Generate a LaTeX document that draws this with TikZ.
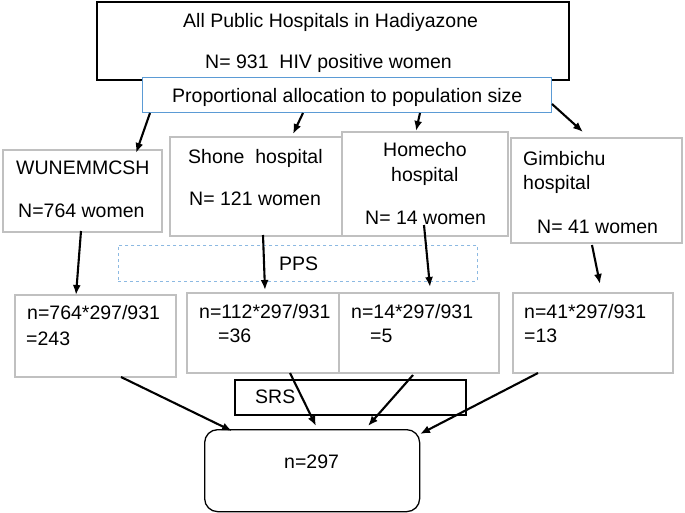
\documentclass[tikz,border=0pt]{standalone}
\usepackage{fontspec}
\setmainfont{Liberation Sans}
\usetikzlibrary{arrows.meta}
\definecolor{boxgray}{RGB}{192,192,192}
\definecolor{allocblue}{RGB}{91,155,213}
\begin{document}
\begin{tikzpicture}[x=1pt,y=-1pt,
  box/.style={anchor=north west,inner sep=0pt,line width=1.8pt,draw=boxgray},
  txt/.style={anchor=base west,inner sep=0pt,font=\fontsize{19.5}{23}\selectfont},
  arr/.style={-{Latex[length=10pt,width=8pt]},line width=2.1pt}]
\useasboundingbox (0,0) rectangle (685,512);

			% top of the flow
			\node(Top) at (96,1)[box,draw=black,line width=1.5pt,minimum width=472pt,minimum height=78pt]{};
			\node(Alloc) at (142,77)[box,draw=allocblue,line width=1.2pt,fill=white,minimum width=409pt,minimum height=35pt]{};
			\node(TopA) at (183,27)[txt]{All Public Hospitals in Hadiyazone};
			\node(TopB) at (205,68)[txt]{N= 931\ \ HIV positive women};
			\node(AllocT) at (172,102)[txt]{Proportional allocation to population size};
			
			% hospitals
			\node(Wun) at (2,149)[box,minimum width=159pt,minimum height=82pt]{};
			\node(Sho) at (169,136)[box,minimum width=172pt,minimum height=99pt]{};
			\node(Hom) at (341,131)[box,minimum width=166pt,minimum height=104pt]{};
			\node(Gim) at (510,137)[box,minimum width=171pt,minimum height=105pt]{};
			\node(WunA) at (16,174)[txt]{WUNEMMCSH};
			\node(WunB) at (18,217)[txt]{N=764 women};
			\node(ShoA) at (188,163)[txt]{Shone\ \ hospital};
			\node(ShoB) at (189,205)[txt]{N= 121 women};
			\node(HomA) at (383,156)[txt]{Homecho};
			\node(HomB) at (391,181)[txt]{hospital};
			\node(HomC) at (365,224)[txt]{N= 14 women};
			\node(GimA) at (523,165)[txt]{Gimbichu};
			\node(GimB) at (523,189)[txt]{hospital};
			\node(GimC) at (537,233)[txt]{N= 41 women};
			
			\node(Pps) at (118,245)[box,draw=allocblue!70,line width=0.8pt,dashed,minimum width=359pt,minimum height=36pt]{};
			\node(PpsT) at (279,270)[txt]{PPS};
			
			% sample sizes
			\node(WunN) at (14,294)[box,minimum width=161pt,minimum height=82pt]{};
			\node(ShoN) at (186,292)[box,minimum width=152pt,minimum height=80pt]{};
			\node(HomN) at (338,292)[box,minimum width=160pt,minimum height=80pt]{};
			\node(GimN) at (512,292)[box,minimum width=160pt,minimum height=80pt]{};
			\node(WunNA) at (27,319)[txt]{n=764*297/931};
			\node(WunNB) at (26,345)[txt]{=243};
			\node(ShoNA) at (199,318)[txt]{n=112*297/931};
			\node(ShoNB) at (218,342)[txt]{=36};
			\node(HomNA) at (351,318)[txt]{n=14*297/931};
			\node(HomNB) at (370,342)[txt]{=5};
			\node(GimNA) at (524,318)[txt]{n=41*297/931};
			\node(GimNB) at (524,342)[txt]{=13};
			
			\node(Srs) at (234,379)[box,draw=black,line width=1.5pt,minimum width=231pt,minimum height=35pt]{};
			\node(SrsT) at (255,403)[txt]{SRS};
			\node(Total) at (204,429)[box,draw=black,line width=1.3pt,rounded corners=13pt,minimum width=215pt,minimum height=82pt]{};
			\node(TotalT) at (284,468)[txt]{n=297};
			
			% arrow ends
			\coordinate(a1) at (150,113); \coordinate(b1) at (136,153);
			\coordinate(a2) at (303,113); \coordinate(b2) at (293,134);
			\coordinate(a3) at (420,113); \coordinate(b3) at (416,131);
			\coordinate(a4) at (552,104); \coordinate(b4) at (583,132);
			\coordinate(c1) at (81,231); \coordinate(d1) at (76,295);
			\coordinate(c2) at (263,235); \coordinate(d2) at (265,290);
			\coordinate(c3) at (424,225); \coordinate(d3) at (430,287);
			\coordinate(c4) at (592,245); \coordinate(d4) at (600,284);
			\coordinate(e1) at (121,377); \coordinate(f1) at (232,431);
			\coordinate(e2) at (290,373); \coordinate(f2) at (316,426);
			\coordinate(e3) at (413,375); \coordinate(f3) at (368,426);
			\coordinate(e4) at (538,373); \coordinate(f4) at (420,434);
			
			\foreach \s/\t in {a1/b1,a2/b2,a3/b3,a4/b4,c1/d1,c2/d2,c3/d3,c4/d4,e1/f1,e2/f2,e3/f3,e4/f4}
				\draw[arr] (\s) to (\t);
		\end{tikzpicture}
\end{document}
